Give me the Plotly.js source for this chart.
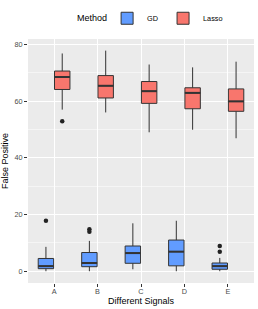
<!DOCTYPE html>
<html>
<head>
<meta charset="utf-8">
<script src="https://cdn.plot.ly/plotly-3.0.1.min.js"></script>
<style>html,body{margin:0;padding:0;background:#fff;}#chart{width:258px;height:309px;}</style>
</head>
<body>
<div id="chart"></div>
<script>
const categories = ['A', 'B', 'C', 'D', 'E'];
const methods = ['GD', 'Lasso'];

const gdQ1 = [0.9, 1.6, 2.8, 1.9, 0.7];
const gdMedian = [1.8, 2.9, 6.4, 6.9, 1.8];
const gdQ3 = [4.5, 6.6, 8.9, 11.0, 2.9];
const gdLower = [0, 0, 0.7, 0, 0];
const gdUpper = [8.6, 10.7, 16.9, 17.8, 4.7];
const gdOutlierCat = ['A', 'B', 'B', 'E', 'E'];
const gdOutlierVal = [17.8, 14.8, 13.9, 8.9, 6.9];

const lassoQ1 = [64.1, 61.1, 59.2, 57.3, 56.4];
const lassoMedian = [68.5, 65.4, 63.5, 62.9, 59.9];
const lassoQ3 = [70.6, 69.0, 66.9, 64.7, 64.3];
const lassoLower = [57.0, 56.0, 49.0, 49.9, 46.9];
const lassoUpper = [76.8, 77.8, 72.9, 71.9, 73.9];
const lassoOutlierCat = ['A'];
const lassoOutlierVal = [52.9];

const colors = {GD: '#619CFF', Lasso: '#F8766D'};
const dodge = 0.1875;
const boxW = 0.355;
const offsets = {GD: -dodge, Lasso: dodge};

function pos(cat, m) { return categories.indexOf(cat) + 1 + offsets[m]; }

const stats = {
  GD: {q1: gdQ1, med: gdMedian, q3: gdQ3, lo: gdLower, hi: gdUpper, oc: gdOutlierCat, ov: gdOutlierVal},
  Lasso: {q1: lassoQ1, med: lassoMedian, q3: lassoQ3, lo: lassoLower, hi: lassoUpper, oc: lassoOutlierCat, ov: lassoOutlierVal}
};

const traces = [];
methods.forEach(m => {
  const s = stats[m];
  traces.push({
    type: 'box', name: m,
    x: categories.map(c => pos(c, m)),
    q1: s.q1, median: s.med, q3: s.q3, lowerfence: s.lo, upperfence: s.hi,
    width: boxW, whiskerwidth: 0,
    fillcolor: colors[m],
    line: {color: '#333333', width: 1},
    hoverinfo: 'skip', showlegend: true
  });
});
methods.forEach(m => {
  const s = stats[m];
  const mx = [], my = [];
  categories.forEach((c, i) => {
    mx.push(pos(c, m) - boxW / 2, pos(c, m) + boxW / 2, null);
    my.push(s.med[i], s.med[i], null);
  });
  traces.push({type: 'scatter', mode: 'lines', x: mx, y: my,
    line: {color: '#333333', width: 2}, showlegend: false, hoverinfo: 'skip'});
  traces.push({type: 'scatter', mode: 'markers',
    x: s.oc.map(c => pos(c, m)), y: s.ov,
    marker: {color: '#222222', size: 4.5}, showlegend: false, hoverinfo: 'skip'});
});

const font = 'Liberation Sans, Arial, sans-serif';
const layout = {
  width: 258, height: 309,
  margin: {l: 28, r: 4, t: 37, b: 26},
  paper_bgcolor: '#ffffff', plot_bgcolor: '#EBEBEB',
  font: {family: font, size: 7.3, color: '#4D4D4D'},
  showlegend: true,
  legend: {orientation: 'h', x: 0.35, xanchor: 'left', y: 1.085, yanchor: 'middle',
    font: {size: 7.3, color: '#000000'}, itemwidth: 30, traceorder: 'normal',
    bgcolor: 'rgba(0,0,0,0)'},
  annotations: [{text: 'Method', xref: 'paper', yref: 'paper', x: 0.285, y: 1.0855,
    xanchor: 'center', yanchor: 'middle', showarrow: false,
    font: {size: 9, color: '#000000', family: font}}],
  xaxis: {
    range: [0.4, 5.6], tickmode: 'array', tickvals: categories.map((c, i) => i + 1), ticktext: categories,
    showgrid: true, gridcolor: '#ffffff', gridwidth: 1, zeroline: false,
    ticks: 'outside', ticklen: 3, tickwidth: 1, tickcolor: '#333333', ticklabelstandoff: -2,
    tickfont: {size: 7.3, color: '#4D4D4D'},
    title: {text: 'Different Signals', font: {size: 9, color: '#000000'}, standoff: 1},
    fixedrange: true
  },
  yaxis: {
    range: [-4.15, 81.9], tickmode: 'array', tickvals: [0, 20, 40, 60, 80],
    showgrid: true, gridcolor: '#ffffff', gridwidth: 1, zeroline: false,
    minor: {tickmode: 'array', tickvals: [10, 30, 50, 70], showgrid: true, gridcolor: '#ffffff', gridwidth: 0.5, ticks: ''},
    ticks: 'outside', ticklen: 3, tickwidth: 1, tickcolor: '#333333',
    tickfont: {size: 7.3, color: '#4D4D4D'},
    title: {text: 'False Positive', font: {size: 9, color: '#000000'}, standoff: 4},
    fixedrange: true
  }
};
Plotly.newPlot('chart', traces, layout, {displayModeBar: false, staticPlot: true});
</script>
</body>
</html>
